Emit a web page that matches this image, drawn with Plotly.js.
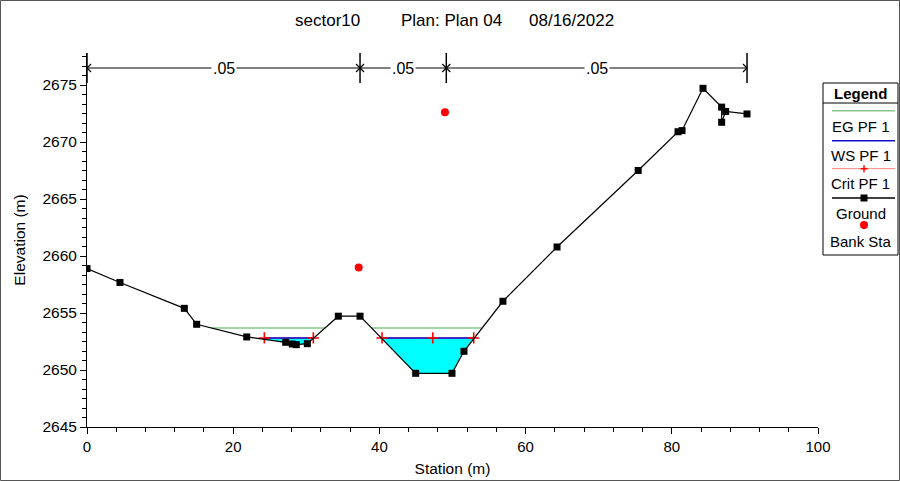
<!DOCTYPE html>
<html>
<head>
<meta charset="utf-8">
<script src="https://cdn.plot.ly/plotly-3.0.1.min.js"></script>
<style>html,body{margin:0;padding:0;background:#fff;}#chart{width:900px;height:481px;}</style>
</head>
<body>
<div id="chart"></div>
<script>
// ---- data ----
const groundStation = [0, 4.51, 13.31, 15.0, 21.85, 27.18, 28.08, 28.63, 30.14, 34.38, 37.35, 44.96, 49.93, 51.57, 56.9, 64.3, 75.4, 80.85, 81.4, 84.27, 86.82, 86.82, 87.37, 90.29];
const groundElev = [2658.9, 2657.68, 2655.41, 2654.01, 2652.9, 2652.43, 2652.28, 2652.22, 2652.31, 2654.72, 2654.72, 2649.71, 2649.71, 2651.64, 2656.03, 2660.79, 2667.5, 2670.9, 2671.0, 2674.71, 2673.06, 2671.73, 2672.68, 2672.46];
const bankStation = [37.17, 48.97];
const bankElev = [2659.0, 2672.6];
const egElev = 2653.68;
const egExtents = [[17.0, 32.55], [38.93, 54.05]];
const wsElev = 2652.81;
const wsExtents = [[24.26, 30.96], [40.36, 52.9]];
const critElev = 2652.81;
const critStation = [[24.26, 30.96], [40.36, 47.3, 52.9]];
const nStations = [0, 37.35, 49.15, 90.29];
const nValues = ['.05', '.05', '.05'];
const titleParts = ['sector10', 'Plan: Plan 04', '08/16/2022'];
const legendNames = ['EG PF 1', 'WS PF 1', 'Crit PF 1', 'Ground', 'Bank Sta'];
const xTicks = [0, 20, 40, 60, 80, 100];
const yTicks = [2645, 2650, 2655, 2660, 2665, 2670, 2675];

// ---- geometry helpers ----
const L = 87, R = 82, T = 53, B = 54, W = 900, H = 481;
const pw = W - L - R, ph = H - T - B;
const px = v => (v - L) / pw;          // pixel x -> paper x
const py = v => (H - B - v) / ph;      // pixel y -> paper y
function groundAt(x) {
  for (let i = 0; i < groundStation.length - 1; i++) {
    const x0 = groundStation[i], x1 = groundStation[i + 1];
    if (x >= x0 && x <= x1 && x1 > x0) {
      return groundElev[i] + (groundElev[i + 1] - groundElev[i]) * (x - x0) / (x1 - x0);
    }
  }
  return wsElev;
}

const FONT = 'Liberation Sans, Arial, sans-serif';
const traces = [];

// water fill
const fx = [], fy = [];
wsExtents.forEach(([a, b], k) => {
  if (k > 0) { fx.push(null); fy.push(null); }
  fx.push(a, b);
  fy.push(wsElev, wsElev);
  fy.push(Math.min(groundAt(b), wsElev)); fx.push(b);
  for (let i = groundStation.length - 1; i >= 0; i--) {
    if (groundStation[i] > a && groundStation[i] < b) { fx.push(groundStation[i]); fy.push(groundElev[i]); }
  }
  fx.push(a); fy.push(Math.min(groundAt(a), wsElev));
  fx.push(a); fy.push(wsElev);
});
traces.push({x: fx, y: fy, type: 'scatter', mode: 'lines', fill: 'toself', fillcolor: '#00FFFF',
  line: {width: 0, color: '#00FFFF'}, showlegend: false, hoverinfo: 'skip'});

// EG
const egx = [], egy = [];
egExtents.forEach(([a, b], k) => { if (k) { egx.push(null); egy.push(null); } egx.push(a, b); egy.push(egElev, egElev); });
traces.push({x: egx, y: egy, type: 'scatter', mode: 'lines', name: legendNames[0], line: {color: '#86C786', width: 1.5}, showlegend: false});

// Crit line (under WS)
const cx = [], cy = [];
critStation.forEach((arr, k) => { if (k) { cx.push(null); cy.push(null); } arr.forEach(s => { cx.push(s); cy.push(critElev); }); });
traces.push({x: cx, y: cy, type: 'scatter', mode: 'lines', line: {color: '#FF0000', width: 1}, showlegend: false});

// WS
const wx = [], wy = [];
wsExtents.forEach(([a, b], k) => { if (k) { wx.push(null); wy.push(null); } wx.push(a, b); wy.push(wsElev, wsElev); });
traces.push({x: wx, y: wy, type: 'scatter', mode: 'lines', name: legendNames[1], line: {color: '#1010D8', width: 1.5}, showlegend: false});

// Crit markers
traces.push({x: cx, y: cy, type: 'scatter', mode: 'markers', name: legendNames[2],
  marker: {symbol: 'cross-thin', size: 8, line: {color: '#FF0000', width: 1.6}, color: '#FF0000'}, showlegend: false});

// Ground
traces.push({x: groundStation, y: groundElev, type: 'scatter', mode: 'lines+markers', name: legendNames[3],
  line: {color: '#000', width: 1.2}, marker: {symbol: 'square', size: 7, color: '#000'}, showlegend: false});

// Bank stations
traces.push({x: bankStation, y: bankElev, type: 'scatter', mode: 'markers', name: legendNames[4],
  marker: {symbol: 'circle', size: 8, color: '#FF0000'}, showlegend: false});

const shapes = [], annotations = [];

// outer frame
shapes.push({type: 'rect', xref: 'paper', yref: 'paper', x0: px(0.5), x1: px(899.5), y0: py(480.5), y1: py(0.5),
  line: {color: '#555', width: 1}, fillcolor: 'rgba(0,0,0,0)', layer: 'below'});

// Manning's n bars
const yTop = 1.0, yBot = py(83), yArr = py(68);
const ah = 4 / ph, aw = 4 * 100 / pw;
nStations.forEach(s => {
  shapes.push({type: 'line', xref: 'x', yref: 'paper', x0: s, x1: s, y0: yBot, y1: yTop, line: {color: '#000', width: 1.5}});
});
for (let i = 0; i < nValues.length; i++) {
  const a = nStations[i], b = nStations[i + 1];
  shapes.push({type: 'line', xref: 'x', yref: 'paper', x0: a, x1: b, y0: yArr, y1: yArr, line: {color: '#000', width: 1.2}});
  shapes.push({type: 'path', xref: 'x', yref: 'paper',
    path: `M ${a + aw} ${yArr + ah} L ${a} ${yArr} L ${a + aw} ${yArr - ah}`, line: {color: '#000', width: 1.2}});
  shapes.push({type: 'path', xref: 'x', yref: 'paper',
    path: `M ${b - aw} ${yArr + ah} L ${b} ${yArr} L ${b - aw} ${yArr - ah}`, line: {color: '#000', width: 1.2}});
  annotations.push({xref: 'x', yref: 'paper', x: (a + b) / 2, y: yArr, text: nValues[i], showarrow: false,
    font: {family: FONT, size: 16, color: '#000'}, bgcolor: '#fff', borderpad: 1, xanchor: 'center', yanchor: 'middle'});
}

// Title parts
const titleX = [327, 451, 571];
titleParts.forEach((t, i) => annotations.push({xref: 'paper', yref: 'paper', x: px(titleX[i]), y: py(20), text: t,
  showarrow: false, font: {family: FONT, size: 17, color: '#000'}, xanchor: 'center', yanchor: 'middle'}));

// Legend box
shapes.push({type: 'rect', xref: 'paper', yref: 'paper', x0: px(823), x1: px(898), y0: py(83), y1: py(255),
  line: {color: '#000', width: 1}, fillcolor: 'rgba(0,0,0,0)'});
shapes.push({type: 'line', xref: 'paper', yref: 'paper', x0: px(823), x1: px(898), y0: py(103), y1: py(103), line: {color: '#000', width: 1}});
const lgx = 860.5;
annotations.push({xref: 'paper', yref: 'paper', x: px(lgx), y: py(93), text: '<b>Legend</b>', showarrow: false,
  font: {family: FONT, size: 15, color: '#000'}, xanchor: 'center', yanchor: 'middle'});
const lineYs = [110.7, 140.7, 168.7, 198];
const lineCols = ['#86C786', '#1010D8', '#FF8080', '#000'];
lineYs.forEach((y, i) => shapes.push({type: 'line', xref: 'paper', yref: 'paper', x0: px(832), x1: px(895), y0: py(y), y1: py(y),
  line: {color: lineCols[i], width: i === 2 ? 1 : 1.5}}));
// crit cross
shapes.push({type: 'line', xref: 'paper', yref: 'paper', x0: px(860.5), x1: px(867.5), y0: py(168.7), y1: py(168.7), line: {color: '#FF0000', width: 1.5}});
shapes.push({type: 'line', xref: 'paper', yref: 'paper', x0: px(864), x1: px(864), y0: py(165.2), y1: py(172.2), line: {color: '#FF0000', width: 1.5}});
// ground square
shapes.push({type: 'rect', xref: 'paper', yref: 'paper', x0: px(860.5), x1: px(867.5), y0: py(194.5), y1: py(201.5), line: {width: 0}, fillcolor: '#000'});
// bank dot
shapes.push({type: 'circle', xref: 'paper', yref: 'paper', x0: px(860), x1: px(868), y0: py(221), y1: py(229), line: {width: 0}, fillcolor: '#FF0000'});
const textYs = [126.5, 155.5, 183.5, 213, 241];
legendNames.forEach((n, i) => annotations.push({xref: 'paper', yref: 'paper', x: px(lgx), y: py(textYs[i]), text: n, showarrow: false,
  font: {family: FONT, size: 15, color: '#000'}, xanchor: 'center', yanchor: 'middle'}));

const layout = {
  width: W, height: H,
  margin: {l: L, r: R, t: T, b: B, pad: 0},
  paper_bgcolor: '#fff', plot_bgcolor: '#fff',
  showlegend: false,
  font: {family: FONT, color: '#000'},
  xaxis: {range: [0, 100], tickvals: xTicks, ticktext: xTicks.map(String), ticks: 'outside', ticklen: 6, tickcolor: '#000',
    showline: true, linecolor: '#000', linewidth: 1, showgrid: false, zeroline: false, fixedrange: true,
    minor: {dtick: 4, tick0: 0, ticks: 'outside', ticklen: 4, tickcolor: '#000', showgrid: false},
    tickfont: {family: FONT, size: 15, color: '#000'},
    title: {text: 'Station (m)', font: {family: FONT, size: 15.5, color: '#000'}, standoff: 9}},
  yaxis: {range: [2645, 2645 + ph / 11.4], tickvals: yTicks, ticktext: yTicks.map(String), ticks: 'outside', ticklen: 6, tickcolor: '#000',
    showline: true, linecolor: '#000', linewidth: 1, showgrid: false, zeroline: false, fixedrange: true,
    minor: {dtick: 5 / 6, tick0: 2645, ticks: 'outside', ticklen: 4, tickcolor: '#000', showgrid: false},
    tickfont: {family: FONT, size: 15.5, color: '#000'},
    title: {text: 'Elevation (m)', font: {family: FONT, size: 15.5, color: '#000'}, standoff: 12}},
  shapes: shapes,
  annotations: annotations
};

Plotly.newPlot('chart', traces, layout, {displayModeBar: false, staticPlot: true});
</script>
</body>
</html>
